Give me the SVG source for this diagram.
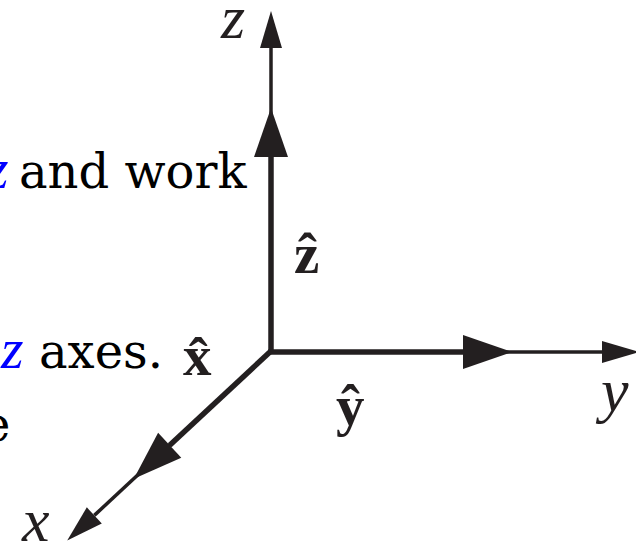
<svg xmlns="http://www.w3.org/2000/svg" width="636" height="547" viewBox="0 0 636 547">
  <style>
    .axis { stroke: #231f20; stroke-width: 3.5; fill: none; }
    .vec { stroke: #231f20; stroke-width: 5.5; fill: none; }
    .ital { font-family: "Liberation Serif", "Times New Roman", serif; font-style: italic; font-size: 62px; fill: #231f20; }
    .hat { font-family: "Liberation Serif", "Times New Roman", serif; font-weight: bold; font-size: 57px; fill: #231f20; }
    .body { font-family: "DejaVu Serif", serif; font-size: 48px; fill: #000; }
    .math { font-family: "Liberation Serif", "Times New Roman", serif; font-style: italic; font-size: 58px; fill: #0000ff; }
  </style>
  <defs>
    <marker id="headSmall" markerUnits="userSpaceOnUse" markerWidth="40" markerHeight="24" viewBox="0 -12 40 24" refX="0" refY="0" orient="auto" overflow="visible">
      <path d="M0,-11 L37,0 L0,11 Z" fill="#231f20"/>
    </marker>
    <marker id="headBig" markerUnits="userSpaceOnUse" markerWidth="52" markerHeight="36" viewBox="0 -18 52 36" refX="0" refY="0" orient="auto" overflow="visible">
      <path d="M0,-17 L49,0 L0,17 Z" fill="#231f20"/>
    </marker>
  </defs>
  <rect width="636" height="547" fill="#ffffff"/>

  <g id="text-fragments">
    <text class="body" y="188"><tspan class="math" x="-14">z</tspan><tspan x="19">and work</tspan></text>
    <text class="body" y="368"><tspan class="math" x="1">z</tspan><tspan x="39">axes.</tspan></text>
    <text class="body" x="-18" y="441">e</text>
  </g>

  <g id="connectors">
    <line class="axis" x1="271" y1="352" x2="271" y2="48" marker-end="url(#headSmall)"/>
    <line class="vec" x1="271" y1="352" x2="271" y2="157" marker-end="url(#headBig)"/>
    <line class="axis" x1="268.5" y1="352" x2="602" y2="352" marker-end="url(#headSmall)"/>
    <line class="vec" x1="268.5" y1="352" x2="463" y2="352" marker-end="url(#headBig)"/>
    <line class="axis" x1="271" y1="351" x2="94.3" y2="515.4" marker-end="url(#headSmall)"/>
    <line class="vec" x1="271" y1="351" x2="169.7" y2="445.3" marker-end="url(#headBig)"/>
  </g>

  <g id="label-z"><text class="ital" x="221" y="38">z</text></g>
  <g id="label-y"><text class="ital" x="601" y="411">y</text></g>
  <g id="label-x"><text class="ital" x="22" y="541">x</text></g>
  <g id="label-zhat"><text class="hat" x="294" y="273">z&#x302;</text></g>
  <g id="label-yhat"><text class="hat" x="336" y="425">y&#x302;</text></g>
  <g id="label-xhat"><text class="hat" x="183" y="375">x&#x302;</text></g>
</svg>
